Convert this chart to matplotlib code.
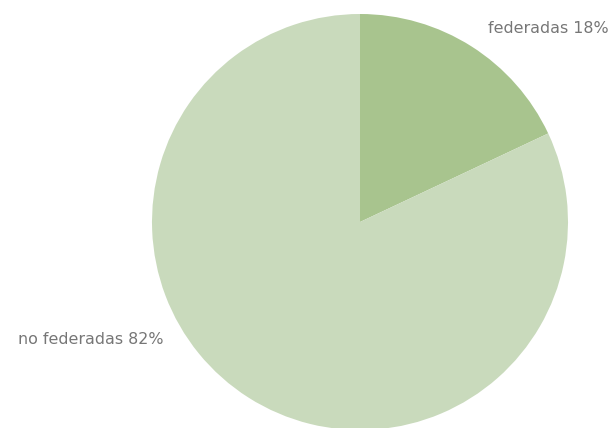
import matplotlib.pyplot as plt

# data
categories = ["federadas", "no federadas"]
shares = [18, 82]
colors = ["#a8c48e", "#c9dabc"]

fig = plt.figure(figsize=(6.08, 4.28), dpi=100)
ax = fig.add_axes([0, 0, 1, 1])

ax.pie(shares, colors=colors, startangle=90, counterclock=False,
       center=(360, 206), radius=208, frame=True,
       wedgeprops=dict(linewidth=0))
ax.set_xlim(0, 608)
ax.set_ylim(0, 428)
ax.set_aspect("equal")
ax.axis("off")

font = dict(family="DejaVu Sans", fontsize=11.4, color="#767676")
ax.text(488, 400, f"{categories[0]} {shares[0]}%", ha="left", va="center", **font)
ax.text(18, 88, f"{categories[1]} {shares[1]}%", ha="left", va="center", **font)

fig.savefig("out.png", dpi=100, facecolor="white")
